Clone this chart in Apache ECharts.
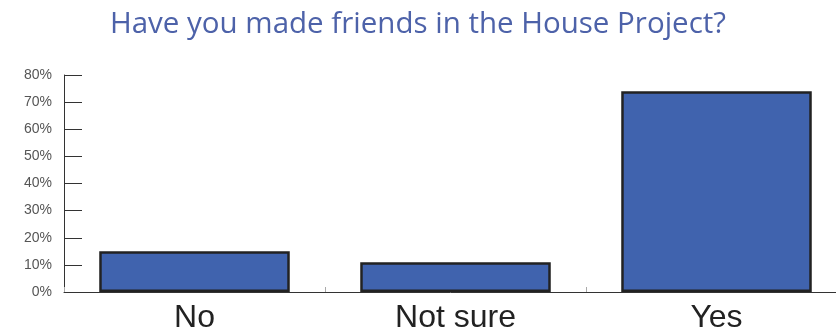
<!DOCTYPE html>
<html>
<head>
<meta charset="utf-8">
<script src="https://cdn.jsdelivr.net/npm/echarts@6/dist/echarts.min.js"></script>
<style>html,body{margin:0;padding:0;background:#fff}#c{width:836px;height:331px}</style>
</head>
<body>
<div id="c"></div>
<script>
const titleText = "Have you made friends in the House Project?";
const categories = ["No", "Not sure", "Yes"];
const values = [15, 11, 74];
const yTicks = [0, 10, 20, 30, 40, 50, 60, 70, 80];

const chart = echarts.init(document.getElementById('c'), null, {renderer: 'canvas'});
chart.setOption({
  animation: false,
  title: {
    text: titleText,
    left: 'center',
    top: 5,
    textStyle: {fontFamily: 'Open Sans', fontWeight: 'normal', fontSize: 29.5, color: '#4d62a9'}
  },
  grid: {left: 64, width: 783, top: 75, bottom: 39, containLabel: false, outerBoundsMode: 'none'},
  xAxis: {
    type: 'category',
    data: categories,
    axisLine: {lineStyle: {color: '#333', width: 1}},
    axisTick: {show: true, inside: true, length: 5, lineStyle: {color: '#aaa'}},
    axisLabel: {fontFamily: 'Liberation Sans', fontSize: 32, color: '#222', margin: 10}
  },
  yAxis: {
    type: 'value',
    min: yTicks[0],
    max: yTicks[yTicks.length - 1],
    interval: 10,
    axisLine: {show: true, lineStyle: {color: '#333', width: 1}},
    axisTick: {show: true, inside: true, length: 18, lineStyle: {color: '#333'}},
    splitLine: {show: false},
    axisLabel: {fontFamily: 'Liberation Sans', fontSize: 14, color: '#555', margin: 12, formatter: v => v + '%'}
  },
  series: [{
    type: 'bar',
    data: values,
    barWidth: '73%',
    itemStyle: {color: '#4063ae', borderColor: '#222', borderWidth: 2.5}
  }]
});
</script>
</body>
</html>
